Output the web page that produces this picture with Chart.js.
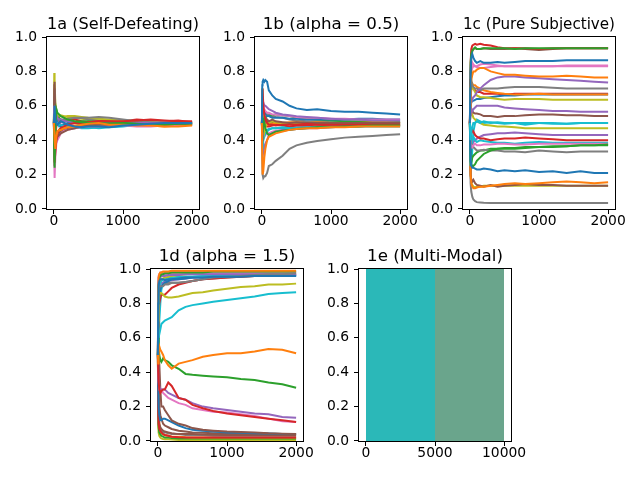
<!DOCTYPE html>
<html><head><meta charset="utf-8">
<script src="https://cdn.jsdelivr.net/npm/chart.js@4.4.0/dist/chart.umd.min.js"></script>
<style>
html,body{margin:0;padding:0;background:#fff;width:640px;height:480px;overflow:hidden;position:relative}
canvas{position:absolute}
</style></head><body>
<canvas id="c1a"></canvas><canvas id="c1b"></canvas><canvas id="c1c"></canvas><canvas id="c1d"></canvas><canvas id="c1e"></canvas>
<script>
// ---------- data ----------
const steps = [0,5,10,20,35,50,75,100,150,200,300,400,500,650,800,1000,1200,1400,1600,1800,2000];
const xTicksShort = [0,1000,2000];
const xTicksLong = [0,5000,10000];
const yTicks = [0,0.2,0.4,0.6,0.8,1.0];
const titles = ["1a (Self-Defeating)","1b (alpha = 0.5)","1c (Pure Subjective)","1d (alpha = 1.5)","1e (Multi-Modal)"];

const series1a = [
[0.50,0.55,0.60,0.52,0.50,0.49,0.50,0.51,0.50,0.49,0.48,0.475,0.48,0.48,0.475,0.485,0.49,0.495,0.50,0.50,0.50],
[0.50,0.45,0.40,0.35,0.42,0.45,0.46,0.46,0.47,0.475,0.48,0.49,0.495,0.50,0.49,0.49,0.485,0.485,0.48,0.48,0.485],
[0.50,0.30,0.24,0.45,0.58,0.56,0.55,0.54,0.53,0.52,0.51,0.505,0.50,0.50,0.495,0.50,0.495,0.49,0.49,0.495,0.495],
[0.50,0.35,0.27,0.33,0.40,0.44,0.46,0.47,0.48,0.49,0.50,0.50,0.505,0.51,0.51,0.51,0.515,0.52,0.515,0.51,0.51],
[0.50,0.60,0.56,0.55,0.54,0.53,0.52,0.52,0.51,0.51,0.505,0.50,0.50,0.50,0.495,0.495,0.50,0.50,0.505,0.50,0.50],
[0.50,0.72,0.74,0.50,0.40,0.42,0.43,0.44,0.45,0.46,0.47,0.48,0.485,0.49,0.49,0.495,0.49,0.49,0.49,0.495,0.495],
[0.50,0.30,0.18,0.30,0.38,0.40,0.42,0.44,0.455,0.46,0.47,0.475,0.48,0.48,0.485,0.49,0.49,0.485,0.485,0.49,0.49],
[0.50,0.65,0.70,0.60,0.55,0.53,0.52,0.52,0.52,0.525,0.53,0.53,0.53,0.535,0.53,0.52,0.51,0.505,0.50,0.50,0.505],
[0.50,0.79,0.75,0.62,0.56,0.54,0.545,0.54,0.535,0.54,0.54,0.535,0.53,0.525,0.52,0.515,0.51,0.505,0.505,0.50,0.50],
[0.50,0.35,0.66,0.55,0.50,0.50,0.49,0.49,0.48,0.48,0.475,0.47,0.47,0.475,0.48,0.485,0.49,0.495,0.495,0.495,0.495],
[0.50,0.40,0.45,0.50,0.52,0.50,0.49,0.48,0.49,0.50,0.50,0.495,0.49,0.49,0.48,0.49,0.495,0.50,0.50,0.505,0.505],
[0.50,0.58,0.62,0.50,0.45,0.44,0.46,0.47,0.47,0.48,0.485,0.49,0.49,0.49,0.485,0.49,0.49,0.485,0.48,0.485,0.49],
[0.50,0.55,0.50,0.56,0.58,0.55,0.53,0.52,0.51,0.51,0.505,0.51,0.51,0.505,0.50,0.505,0.50,0.50,0.495,0.50,0.50],
[0.50,0.30,0.25,0.42,0.48,0.50,0.50,0.51,0.51,0.52,0.52,0.51,0.505,0.51,0.515,0.51,0.52,0.515,0.51,0.515,0.505],
[0.50,0.45,0.42,0.48,0.50,0.50,0.50,0.49,0.49,0.495,0.50,0.50,0.495,0.49,0.495,0.50,0.50,0.495,0.49,0.49,0.495],
[0.50,0.60,0.48,0.44,0.42,0.43,0.44,0.45,0.46,0.465,0.475,0.48,0.485,0.49,0.49,0.49,0.495,0.495,0.49,0.49,0.49],
[0.50,0.40,0.38,0.40,0.42,0.44,0.45,0.46,0.465,0.47,0.475,0.48,0.485,0.49,0.49,0.485,0.48,0.48,0.485,0.485,0.49],
[0.50,0.55,0.60,0.55,0.53,0.52,0.51,0.515,0.52,0.52,0.525,0.53,0.52,0.515,0.51,0.505,0.50,0.50,0.50,0.505,0.50],
[0.50,0.70,0.65,0.60,0.56,0.55,0.54,0.545,0.54,0.535,0.53,0.525,0.52,0.515,0.51,0.51,0.505,0.50,0.50,0.50,0.50],
[0.50,0.67,0.40,0.45,0.52,0.50,0.48,0.48,0.475,0.47,0.47,0.475,0.475,0.47,0.475,0.48,0.49,0.49,0.495,0.495,0.495]
];

const series1b = [
[0.50,0.72,0.74,0.75,0.74,0.75,0.74,0.69,0.66,0.64,0.625,0.60,0.585,0.575,0.58,0.57,0.565,0.565,0.56,0.555,0.55],
[0.50,0.30,0.20,0.22,0.30,0.35,0.40,0.42,0.43,0.44,0.45,0.46,0.465,0.47,0.47,0.475,0.475,0.48,0.48,0.48,0.48],
[0.50,0.45,0.48,0.52,0.50,0.47,0.44,0.43,0.44,0.45,0.455,0.46,0.465,0.47,0.475,0.475,0.48,0.48,0.485,0.485,0.485],
[0.50,0.60,0.70,0.60,0.55,0.52,0.50,0.49,0.49,0.485,0.49,0.49,0.49,0.495,0.49,0.49,0.49,0.49,0.49,0.49,0.49],
[0.50,0.55,0.60,0.62,0.60,0.60,0.59,0.58,0.57,0.56,0.55,0.545,0.54,0.535,0.53,0.525,0.52,0.52,0.515,0.515,0.515],
[0.50,0.40,0.45,0.50,0.52,0.53,0.52,0.51,0.52,0.51,0.505,0.50,0.505,0.50,0.50,0.50,0.50,0.50,0.50,0.50,0.50],
[0.50,0.55,0.58,0.60,0.58,0.57,0.56,0.56,0.55,0.55,0.545,0.54,0.535,0.53,0.53,0.525,0.525,0.52,0.52,0.52,0.52],
[0.50,0.30,0.20,0.18,0.19,0.19,0.21,0.25,0.26,0.28,0.31,0.35,0.37,0.385,0.395,0.405,0.415,0.42,0.425,0.43,0.435],
[0.50,0.70,0.62,0.50,0.45,0.48,0.50,0.50,0.51,0.505,0.50,0.50,0.495,0.50,0.495,0.495,0.50,0.495,0.495,0.495,0.495],
[0.50,0.40,0.35,0.40,0.42,0.44,0.45,0.46,0.47,0.47,0.475,0.47,0.47,0.475,0.475,0.48,0.48,0.48,0.48,0.48,0.48],
[0.50,0.55,0.52,0.55,0.56,0.55,0.54,0.54,0.53,0.53,0.53,0.525,0.525,0.52,0.52,0.52,0.52,0.525,0.525,0.52,0.52],
[0.50,0.45,0.50,0.48,0.47,0.48,0.49,0.49,0.495,0.50,0.50,0.505,0.505,0.50,0.505,0.50,0.50,0.50,0.505,0.505,0.50],
[0.50,0.52,0.55,0.53,0.52,0.53,0.54,0.54,0.545,0.55,0.545,0.54,0.53,0.525,0.52,0.515,0.51,0.51,0.51,0.505,0.505],
[0.50,0.48,0.45,0.50,0.50,0.49,0.48,0.48,0.485,0.49,0.485,0.48,0.485,0.485,0.48,0.485,0.485,0.49,0.485,0.485,0.485],
[0.50,0.42,0.38,0.33,0.36,0.38,0.40,0.43,0.44,0.45,0.46,0.465,0.47,0.475,0.48,0.48,0.485,0.49,0.49,0.495,0.495],
[0.50,0.52,0.50,0.48,0.50,0.51,0.51,0.50,0.50,0.49,0.49,0.495,0.50,0.50,0.495,0.495,0.50,0.50,0.505,0.505,0.505],
[0.50,0.40,0.42,0.45,0.44,0.43,0.44,0.44,0.45,0.455,0.46,0.46,0.465,0.47,0.47,0.475,0.48,0.48,0.485,0.49,0.49],
[0.50,0.58,0.60,0.58,0.57,0.56,0.55,0.55,0.54,0.535,0.53,0.52,0.515,0.51,0.51,0.505,0.505,0.50,0.50,0.50,0.50],
[0.50,0.60,0.65,0.55,0.52,0.51,0.51,0.50,0.50,0.50,0.495,0.50,0.50,0.50,0.495,0.495,0.49,0.49,0.49,0.49,0.49],
[0.50,0.45,0.40,0.45,0.47,0.46,0.46,0.465,0.47,0.47,0.47,0.475,0.475,0.475,0.48,0.48,0.48,0.485,0.485,0.485,0.485]
];

const series1c = [
[0.50,0.70,0.80,0.88,0.90,0.88,0.86,0.85,0.86,0.85,0.85,0.855,0.85,0.855,0.86,0.86,0.86,0.865,0.865,0.865,0.865],
[0.50,0.60,0.70,0.75,0.78,0.80,0.80,0.81,0.82,0.82,0.80,0.79,0.78,0.78,0.775,0.77,0.77,0.775,0.77,0.765,0.765],
[0.50,0.70,0.85,0.90,0.92,0.93,0.94,0.93,0.93,0.935,0.935,0.935,0.935,0.93,0.935,0.935,0.935,0.935,0.935,0.935,0.935],
[0.50,0.75,0.85,0.93,0.95,0.955,0.96,0.955,0.96,0.955,0.95,0.94,0.935,0.935,0.935,0.93,0.935,0.935,0.935,0.935,0.935],
[0.50,0.55,0.60,0.62,0.64,0.65,0.66,0.68,0.70,0.72,0.75,0.765,0.77,0.77,0.765,0.76,0.755,0.75,0.745,0.74,0.735],
[0.50,0.70,0.80,0.88,0.92,0.93,0.935,0.93,0.93,0.935,0.93,0.93,0.93,0.935,0.93,0.925,0.93,0.935,0.935,0.935,0.935],
[0.50,0.65,0.75,0.80,0.82,0.83,0.83,0.83,0.84,0.845,0.84,0.835,0.83,0.83,0.83,0.83,0.83,0.835,0.835,0.835,0.835],
[0.50,0.65,0.72,0.75,0.72,0.71,0.70,0.70,0.69,0.70,0.70,0.70,0.705,0.71,0.71,0.71,0.705,0.70,0.70,0.70,0.70],
[0.50,0.60,0.65,0.70,0.72,0.70,0.68,0.66,0.65,0.65,0.645,0.64,0.635,0.64,0.64,0.64,0.635,0.635,0.635,0.635,0.635],
[0.50,0.45,0.40,0.45,0.48,0.50,0.50,0.51,0.50,0.51,0.50,0.505,0.50,0.50,0.49,0.50,0.50,0.495,0.50,0.50,0.50],
[0.50,0.35,0.28,0.25,0.24,0.24,0.235,0.23,0.23,0.235,0.23,0.22,0.225,0.22,0.225,0.215,0.22,0.21,0.22,0.21,0.21],
[0.50,0.60,0.70,0.72,0.73,0.72,0.72,0.71,0.70,0.69,0.68,0.675,0.67,0.665,0.665,0.67,0.665,0.665,0.665,0.665,0.665],
[0.50,0.35,0.28,0.26,0.25,0.25,0.26,0.28,0.30,0.32,0.34,0.35,0.35,0.35,0.355,0.36,0.36,0.365,0.37,0.37,0.375],
[0.50,0.45,0.42,0.44,0.46,0.45,0.43,0.42,0.41,0.41,0.40,0.405,0.41,0.41,0.415,0.41,0.405,0.40,0.40,0.40,0.40],
[0.50,0.55,0.60,0.58,0.57,0.58,0.59,0.60,0.60,0.60,0.60,0.60,0.59,0.585,0.58,0.575,0.57,0.57,0.565,0.565,0.565],
[0.50,0.55,0.60,0.58,0.57,0.56,0.555,0.555,0.55,0.54,0.54,0.535,0.54,0.54,0.545,0.55,0.55,0.545,0.545,0.54,0.54],
[0.50,0.40,0.35,0.37,0.36,0.37,0.38,0.37,0.37,0.375,0.375,0.38,0.38,0.375,0.375,0.38,0.38,0.38,0.38,0.38,0.38],
[0.50,0.45,0.40,0.38,0.37,0.36,0.35,0.34,0.34,0.345,0.34,0.34,0.335,0.335,0.33,0.34,0.335,0.33,0.335,0.335,0.335],
[0.50,0.55,0.58,0.56,0.55,0.53,0.52,0.51,0.50,0.49,0.485,0.48,0.48,0.475,0.47,0.47,0.47,0.47,0.47,0.47,0.47],
[0.50,0.30,0.25,0.35,0.40,0.42,0.40,0.39,0.40,0.395,0.39,0.385,0.385,0.38,0.385,0.39,0.385,0.385,0.385,0.385,0.385],
[0.50,0.55,0.60,0.62,0.63,0.63,0.635,0.64,0.64,0.645,0.65,0.655,0.66,0.66,0.665,0.665,0.665,0.665,0.665,0.665,0.665],
[0.50,0.30,0.20,0.15,0.13,0.12,0.12,0.125,0.13,0.13,0.135,0.14,0.145,0.15,0.145,0.15,0.155,0.16,0.155,0.15,0.155],
[0.50,0.30,0.25,0.27,0.30,0.31,0.32,0.33,0.34,0.34,0.35,0.35,0.355,0.355,0.36,0.36,0.365,0.365,0.37,0.37,0.37],
[0.50,0.60,0.65,0.70,0.72,0.70,0.69,0.68,0.68,0.67,0.67,0.67,0.665,0.67,0.67,0.67,0.67,0.67,0.67,0.67,0.67],
[0.50,0.45,0.42,0.40,0.38,0.39,0.40,0.41,0.42,0.43,0.435,0.44,0.44,0.445,0.44,0.435,0.43,0.43,0.43,0.43,0.43],
[0.50,0.30,0.20,0.17,0.16,0.17,0.15,0.14,0.135,0.13,0.14,0.13,0.135,0.14,0.145,0.14,0.14,0.135,0.135,0.135,0.135],
[0.50,0.65,0.80,0.82,0.85,0.84,0.83,0.825,0.82,0.82,0.825,0.83,0.83,0.83,0.83,0.83,0.83,0.83,0.83,0.83,0.83],
[0.50,0.30,0.15,0.10,0.07,0.055,0.045,0.04,0.038,0.036,0.035,0.035,0.035,0.035,0.035,0.035,0.035,0.035,0.035,0.035,0.035],
[0.50,0.35,0.20,0.15,0.14,0.13,0.125,0.13,0.13,0.135,0.135,0.135,0.135,0.135,0.135,0.135,0.135,0.135,0.135,0.135,0.135],
[0.50,0.40,0.30,0.25,0.35,0.45,0.50,0.52,0.51,0.50,0.505,0.50,0.495,0.50,0.50,0.50,0.495,0.495,0.50,0.50,0.50]
];

const series1d = [
[0.50,0.80,0.90,0.93,0.94,0.94,0.94,0.935,0.94,0.94,0.945,0.95,0.95,0.95,0.955,0.955,0.955,0.96,0.96,0.96,0.96],
[0.50,0.45,0.50,0.55,0.53,0.52,0.50,0.47,0.44,0.42,0.45,0.46,0.47,0.49,0.50,0.51,0.51,0.52,0.535,0.53,0.51],
[0.50,0.60,0.55,0.50,0.47,0.46,0.48,0.47,0.46,0.44,0.42,0.39,0.385,0.38,0.375,0.37,0.36,0.355,0.34,0.33,0.31],
[0.50,0.40,0.35,0.30,0.28,0.29,0.30,0.30,0.34,0.32,0.25,0.24,0.21,0.19,0.175,0.16,0.15,0.14,0.13,0.12,0.11],
[0.50,0.40,0.35,0.32,0.30,0.30,0.30,0.30,0.28,0.27,0.25,0.24,0.22,0.20,0.19,0.18,0.17,0.16,0.155,0.14,0.135],
[0.50,0.50,0.48,0.45,0.30,0.20,0.20,0.18,0.15,0.12,0.10,0.09,0.075,0.065,0.06,0.055,0.052,0.05,0.045,0.042,0.04],
[0.50,0.40,0.35,0.30,0.30,0.30,0.28,0.27,0.25,0.24,0.22,0.21,0.19,0.18,0.17,0.165,0.155,0.145,0.13,0.115,0.11],
[0.50,0.85,0.92,0.90,0.90,0.90,0.90,0.91,0.91,0.92,0.92,0.925,0.93,0.94,0.95,0.955,0.96,0.965,0.97,0.97,0.975],
[0.50,0.70,0.80,0.85,0.86,0.86,0.85,0.84,0.835,0.835,0.84,0.85,0.86,0.865,0.875,0.885,0.895,0.90,0.91,0.91,0.915],
[0.50,0.45,0.60,0.62,0.65,0.68,0.69,0.70,0.71,0.72,0.76,0.78,0.79,0.80,0.81,0.82,0.83,0.84,0.855,0.86,0.865],
[0.50,0.30,0.20,0.15,0.12,0.12,0.13,0.13,0.12,0.11,0.09,0.075,0.065,0.06,0.055,0.05,0.048,0.045,0.043,0.04,0.04],
[0.50,0.90,0.95,0.97,0.98,0.98,0.985,0.985,0.985,0.99,0.99,0.99,0.99,0.99,0.99,0.99,0.99,0.99,0.99,0.99,0.99],
[0.50,0.80,0.90,0.95,0.96,0.97,0.97,0.975,0.975,0.98,0.98,0.98,0.98,0.98,0.985,0.985,0.985,0.985,0.985,0.985,0.985],
[0.50,0.20,0.10,0.07,0.06,0.05,0.04,0.035,0.03,0.025,0.022,0.02,0.02,0.02,0.02,0.02,0.02,0.02,0.02,0.02,0.02],
[0.50,0.85,0.93,0.95,0.95,0.96,0.96,0.96,0.965,0.965,0.965,0.97,0.97,0.97,0.97,0.97,0.97,0.97,0.97,0.97,0.97],
[0.50,0.25,0.15,0.10,0.08,0.07,0.06,0.055,0.05,0.045,0.04,0.04,0.04,0.038,0.036,0.035,0.035,0.035,0.035,0.035,0.035],
[0.50,0.90,0.95,0.96,0.97,0.97,0.97,0.97,0.975,0.975,0.975,0.975,0.975,0.975,0.975,0.975,0.975,0.975,0.975,0.975,0.975],
[0.50,0.20,0.10,0.08,0.07,0.06,0.05,0.05,0.045,0.04,0.04,0.035,0.035,0.035,0.03,0.03,0.03,0.03,0.03,0.03,0.03],
[0.50,0.85,0.90,0.93,0.94,0.94,0.945,0.95,0.955,0.96,0.965,0.97,0.975,0.975,0.978,0.98,0.98,0.98,0.98,0.98,0.98],
[0.50,0.70,0.85,0.90,0.92,0.93,0.94,0.945,0.95,0.95,0.955,0.955,0.955,0.958,0.96,0.96,0.96,0.96,0.96,0.96,0.96],
[0.50,0.60,0.75,0.85,0.88,0.90,0.91,0.92,0.93,0.94,0.94,0.945,0.95,0.95,0.955,0.955,0.96,0.96,0.962,0.965,0.965],
[0.50,0.30,0.20,0.10,0.06,0.05,0.04,0.035,0.03,0.025,0.025,0.022,0.02,0.02,0.02,0.02,0.02,0.02,0.02,0.02,0.02],
[0.50,0.15,0.08,0.05,0.04,0.03,0.025,0.02,0.02,0.018,0.015,0.015,0.015,0.015,0.015,0.015,0.015,0.015,0.015,0.015,0.015],
[0.50,0.65,0.75,0.80,0.83,0.85,0.85,0.85,0.87,0.89,0.91,0.92,0.93,0.94,0.945,0.95,0.955,0.96,0.96,0.963,0.965],
[0.50,0.80,0.88,0.90,0.91,0.92,0.92,0.925,0.93,0.935,0.94,0.945,0.95,0.955,0.958,0.96,0.96,0.962,0.965,0.965,0.965],
[0.50,0.48,0.30,0.20,0.15,0.13,0.10,0.09,0.08,0.07,0.06,0.055,0.05,0.048,0.045,0.045,0.045,0.045,0.042,0.04,0.04],
[0.50,0.90,0.96,0.97,0.98,0.98,0.98,0.98,0.98,0.985,0.985,0.985,0.985,0.985,0.985,0.985,0.985,0.985,0.985,0.985,0.985],
[0.50,0.75,0.85,0.88,0.90,0.90,0.91,0.915,0.92,0.92,0.92,0.925,0.93,0.94,0.945,0.95,0.955,0.96,0.965,0.97,0.97],
[0.50,0.10,0.05,0.03,0.02,0.015,0.012,0.01,0.01,0.008,0.006,0.006,0.006,0.006,0.006,0.006,0.006,0.006,0.006,0.006,0.006],
[0.50,0.55,0.60,0.70,0.80,0.88,0.92,0.93,0.94,0.945,0.95,0.955,0.955,0.96,0.96,0.96,0.96,0.96,0.96,0.96,0.96]
];

// 1e: time ranges covered by the oscillating walks (value span 0..1)
const multiModalBands = [[0,5000],[5000,10000]];
const multiModalStripes = [[0,120],[1050,1150],[1600,1680],[1820,1900],[2100,2200],[3500,3570]];
const multiModalLevels = [0,1];

// ---------- styling / layout ----------
const tab10 = ['#1f77b4','#ff7f0e','#2ca02c','#d62728','#9467bd','#8c564b','#e377c2','#7f7f7f','#bcbd22','#17becf'];
const FONT = "'DejaVu Sans', 'Liberation Sans', sans-serif";
const W = 152, H = 172, ML = 50, MR = 50, MT = 30, MB = 35;

const framePlugin = {
  id: 'frame',
  afterDatasetsDraw(chart) {
    const {ctx, chartArea: a} = chart;
    ctx.save();
    ctx.strokeStyle = '#000';
    ctx.lineWidth = 1;
    ctx.strokeRect(Math.round(a.left) - 0.5, Math.round(a.top) - 0.5,
                   Math.round(a.right - a.left) + 1, Math.round(a.bottom - a.top) + 1);
    ctx.restore();
  }
};

function makeChart(id, left, top, title, datasets, xmin, xmax, xticks) {
  const cv = document.getElementById(id);
  cv.width = W + ML + MR;
  cv.height = H + MT + MB;
  cv.style.left = (left - ML) + 'px';
  cv.style.top = (top - MT) + 'px';
  return new Chart(cv, {
    type: 'line',
    data: { datasets },
    options: {
      responsive: false,
      animation: false,
      devicePixelRatio: 1,
      layout: { padding: { left: 0, right: MR, top: 0, bottom: 0 } },
      plugins: {
        legend: { display: false },
        tooltip: { enabled: false },
        title: {
          display: true, text: title, color: '#000', fullSize: false,
          font: { family: FONT, size: 16.67, weight: 'normal', lineHeight: 1.2 },
          padding: { top: 7.2, bottom: 2.8 }
        }
      },
      elements: { point: { radius: 0 }, line: { tension: 0, borderWidth: 2 } },
      scales: {
        x: {
          type: 'linear', min: xmin, max: xmax,
          afterFit(s) { s.height = MB; },
          afterBuildTicks(s) { s.ticks = xticks.map(v => ({ value: v })); },
          grid: { display: true, drawOnChartArea: false, drawTicks: true, tickLength: 5, color: '#000' },
          border: { display: false },
          ticks: { color: '#000', font: { family: FONT, size: 13.89, lineHeight: 1 }, padding: 0,
                   autoSkip: false, maxRotation: 0, callback: v => String(v) }
        },
        y: {
          type: 'linear', min: 0, max: 1,
          afterFit(s) { s.width = ML; },
          afterBuildTicks(s) { s.ticks = yTicks.map(v => ({ value: v })); },
          grid: { display: true, drawOnChartArea: false, drawTicks: true, tickLength: 5, color: '#000' },
          border: { display: false },
          ticks: { color: '#000', font: { family: FONT, size: 13.89, lineHeight: 1 }, padding: 5,
                   autoSkip: false, callback: v => v.toFixed(1) }
        }
      }
    },
    plugins: [framePlugin]
  });
}

function walkDatasets(series) {
  return series.map((vals, i) => ({
    data: steps.map((x, j) => ({ x, y: vals[j] })),
    borderColor: tab10[i % 10],
    backgroundColor: tab10[i % 10],
    borderWidth: 2,
    fill: false
  }));
}

const bandColors = ['#2bb8b8', '#6aa58c'];
const eDatasets = [];
multiModalBands.forEach((b, i) => {
  eDatasets.push({
    data: [{ x: b[0], y: multiModalLevels[1] }, { x: b[1], y: multiModalLevels[1] }],
    fill: 'origin', backgroundColor: bandColors[i], borderColor: bandColors[i], borderWidth: 0
  });
});
multiModalStripes.forEach(b => {
  eDatasets.push({
    data: [{ x: b[0], y: multiModalLevels[1] }, { x: b[1], y: multiModalLevels[1] }],
    fill: 'origin', backgroundColor: '#19bdcc', borderColor: '#19bdcc', borderWidth: 0
  });
});

makeChart('c1a', 47, 37, titles[0], walkDatasets(series1a), -100, 2100, xTicksShort);
makeChart('c1b', 255, 37, titles[1], walkDatasets(series1b), -100, 2100, xTicksShort);
makeChart('c1c', 463, 37, titles[2], walkDatasets(series1c), -100, 2100, xTicksShort);
makeChart('c1d', 151, 269, titles[3], walkDatasets(series1d), -100, 2100, xTicksShort);
makeChart('c1e', 359, 269, titles[4], eDatasets, -500, 10500, xTicksLong);
</script>
</body></html>
